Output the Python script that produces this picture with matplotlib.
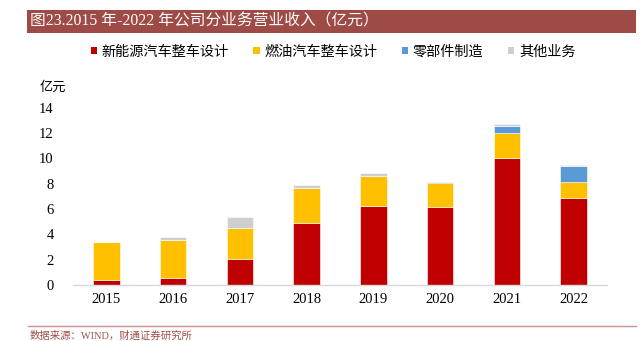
import matplotlib
matplotlib.use("Agg")
import matplotlib.pyplot as plt
from matplotlib.patches import Rectangle, Patch
from matplotlib.lines import Line2D
import numpy as np

plt.rcParams['font.family'] = ['Liberation Serif', 'Noto Sans CJK SC', 'DejaVu Sans']

years = ['2015', '2016', '2017', '2018', '2019', '2020', '2021', '2022']
nev_design = [0.42, 0.58, 2.03, 4.90, 6.21, 6.16, 10.06, 6.90]
fuel_design = [3.00, 3.00, 2.50, 2.74, 2.37, 1.87, 1.92, 1.24]
parts = [0.00, 0.00, 0.00, 0.00, 0.00, 0.13, 0.60, 1.28]
other = [0.00, 0.21, 0.84, 0.26, 0.24, 0.00, 0.14, 0.05]
series_names = ['新能源汽车整车设计', '燃油汽车整车设计', '零部件制造', '其他业务']
colors = ['#C00000', '#FFC000', '#5B9BD5', '#D0CECE']
yticks = [0, 2, 4, 6, 8, 10, 12, 14]

W, H = 643, 341
fig = plt.figure(figsize=(W / 100, H / 100), dpi=100)

def fx(px):
    return px / W

def fy(py):
    return 1 - py / H

# Title bar
fig.patches.append(Rectangle((fx(27.5), fy(32.5)), fx(636) - fx(27.5), fy(10) - fy(32.5),
                             transform=fig.transFigure, facecolor='#9E4B47',
                             edgecolor='none', zorder=0))
fig.text(fx(30), fy(21.5), '图23.2015 年-2022 年公司分业务营业收入（亿元）',
         color='white', fontsize=11.3, va='center', ha='left')

# Axes
ax = fig.add_axes([fx(73), fy(285), fx(607) - fx(73), fy(107.7) - fy(285)])
x = np.arange(len(years))
bottom = np.zeros(len(years))
data = [nev_design, fuel_design, parts, other]
for vals, c, name in zip(data, colors, series_names):
    ax.bar(x, vals, width=0.4, bottom=bottom, color=c, edgecolor='white',
           linewidth=0.4, label=name, zorder=2)
    bottom = bottom + np.array(vals)

ax.set_xlim(-0.5, len(years) - 0.5)
ax.set_ylim(0, 14)
ax.set_yticks(yticks)
ax.set_yticklabels([str(v) for v in yticks], fontsize=10.5)
ax.set_xticks(x)
ax.set_xticklabels(years, fontsize=10.5)
ax.tick_params(axis='both', length=0)
ax.tick_params(axis='y', pad=14)
ax.tick_params(axis='x', pad=6)
for s in ['top', 'right', 'left']:
    ax.spines[s].set_visible(False)
ax.spines['bottom'].set_color('#D9D9D9')
ax.spines['bottom'].set_linewidth(1.0)

fig.text(fx(40), fy(88), '亿元', fontsize=9.5, va='center', ha='left')

# Legend
handles = [Patch(facecolor=c, edgecolor='none') for c in colors]
fig.legend(handles, series_names, loc='center', bbox_to_anchor=(fx(333), fy(52)),
           ncol=4, frameon=False, fontsize=10.2, handlelength=0.45, handleheight=0.45,
           handletextpad=0.35, columnspacing=1.7)

# Bottom separator and source
fig.lines.append(Line2D([fx(28), fx(636)], [fy(326), fy(326)], transform=fig.transFigure,
                        color='#C9928E', linewidth=1.0))
fig.text(fx(30), fy(336), '数据来源：WIND，财通证券研究所', color='#A0504B',
         fontsize=7.5, va='center', ha='left')

fig.savefig('out.png', dpi=100)
